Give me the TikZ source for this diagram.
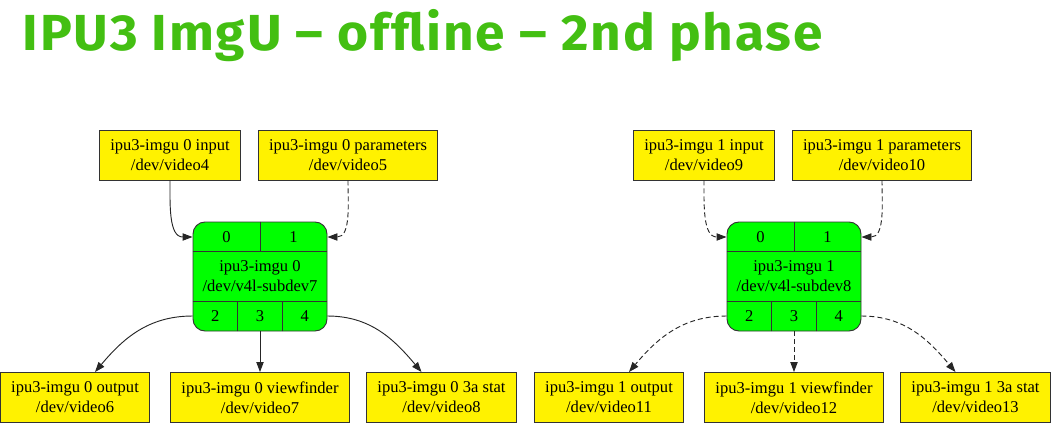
\documentclass[tikz,border=0pt]{standalone}
\usepackage{fontspec}
\setmainfont{Liberation Serif}
\newfontfamily\titlefont[LetterSpace=3.4,FakeStretch=1.05]{Fira Sans}
\usetikzlibrary{arrows.meta,calc}
\definecolor{titlegreen}{HTML}{43BF12}

\begin{document}
\begin{tikzpicture}[x=0.75pt,y=-0.75pt,
  dev/.style={draw=black!80,line width=0.7pt,fill=yellow,align=center,inner xsep=7.9pt,minimum height=37.5pt,font=\fontsize{12.4}{15}\selectfont},
  imgu/.style={dev,fill=green,inner xsep=0pt,rounded corners=9pt,minimum width=100.5pt,minimum height=81.75pt},
  port/.style={inner sep=0pt,font=\fontsize{12.4}{15}\selectfont},
  divider/.style={line width=0.7pt,black!80},
  link/.style={-{Triangle[length=7.5pt,width=5.5pt]},line width=0.7pt,black!85},
  dlink/.style={link,dash pattern=on 3.75pt off 2.25pt}]
\useasboundingbox (0,0) rectangle (1053,437);
\node[anchor=base west,text=titlegreen,font=\titlefont\bfseries\fontsize{38}{40}\selectfont] (title) at (18,50) {IPU3 ImgU – offline – 2nd phase};

% imgu 0
\node[dev] (in0) at (170,155) {ipu3-imgu 0 input\\/dev/video4};
\node[dev] (par0) at (348,155) {ipu3-imgu 0 parameters\\/dev/video5};
\node[imgu] (imgu0) at (260,276.5) {ipu3-imgu 0\\/dev/v4l-subdev7};
\draw[divider] ([yshift=-22.5pt]imgu0.north west) -- ([yshift=-22.5pt]imgu0.north east)
  ([yshift=22.5pt]imgu0.south west) -- ([yshift=22.5pt]imgu0.south east)
  (imgu0.north) -- ++(0,30)
  ($(imgu0.south west)!1/3!(imgu0.south east)$) -- ++(0,-30)
  ($(imgu0.south west)!2/3!(imgu0.south east)$) -- ++(0,-30);
\node[port] (i0p0) at (226.5,237) {0};
\node[port] (i0p1) at (293.5,237) {1};
\node[port] (i0p2) at (215.3,316) {2};
\node[port] (i0p3) at (260,316) {3};
\node[port] (i0p4) at (304.7,316) {4};
\node[dev] (out0) at (75,397.5) {ipu3-imgu 0 output\\/dev/video6};
\node[dev] (vf0) at (260,397.5) {ipu3-imgu 0 viewfinder\\/dev/video7};
\node[dev] (st0) at (441.5,397.5) {ipu3-imgu 0 3a stat\\/dev/video8};
\draw[link] (in0.south) to[out=-90,in=180] (i0p0 -| imgu0.west);
\draw[dlink] (par0.south) to[out=-90,in=0] (i0p1 -| imgu0.east);
\draw[link] (i0p2 -| imgu0.west) to[out=180,in=50] ([xshift=15pt]out0.north);
\draw[link] (imgu0.south) -- (vf0.north);
\draw[link] (i0p4 -| imgu0.east) to[out=0,in=130] ([xshift=-15pt]st0.north);

% imgu 1
\node[dev] (in1) at (704,155) {ipu3-imgu 1 input\\/dev/video9};
\node[dev] (par1) at (882,155) {ipu3-imgu 1 parameters\\/dev/video10};
\node[imgu] (imgu1) at (794,276.5) {ipu3-imgu 1\\/dev/v4l-subdev8};
\draw[divider] ([yshift=-22.5pt]imgu1.north west) -- ([yshift=-22.5pt]imgu1.north east)
  ([yshift=22.5pt]imgu1.south west) -- ([yshift=22.5pt]imgu1.south east)
  (imgu1.north) -- ++(0,30)
  ($(imgu1.south west)!1/3!(imgu1.south east)$) -- ++(0,-30)
  ($(imgu1.south west)!2/3!(imgu1.south east)$) -- ++(0,-30);
\node[port] (i1p0) at (760.5,237) {0};
\node[port] (i1p1) at (827.5,237) {1};
\node[port] (i1p2) at (749.3,316) {2};
\node[port] (i1p3) at (794,316) {3};
\node[port] (i1p4) at (838.7,316) {4};
\node[dev] (out1) at (609,397.5) {ipu3-imgu 1 output\\/dev/video11};
\node[dev] (vf1) at (794,397.5) {ipu3-imgu 1 viewfinder\\/dev/video12};
\node[dev] (st1) at (975.5,397.5) {ipu3-imgu 1 3a stat\\/dev/video13};
\draw[dlink] (in1.south) to[out=-90,in=180] (i1p0 -| imgu1.west);
\draw[dlink] (par1.south) to[out=-90,in=0] (i1p1 -| imgu1.east);
\draw[dlink] (i1p2 -| imgu1.west) to[out=180,in=50] ([xshift=15pt]out1.north);
\draw[dlink] (imgu1.south) -- (vf1.north);
\draw[dlink] (i1p4 -| imgu1.east) to[out=0,in=130] ([xshift=-15pt]st1.north);
\end{tikzpicture}
\end{document}
